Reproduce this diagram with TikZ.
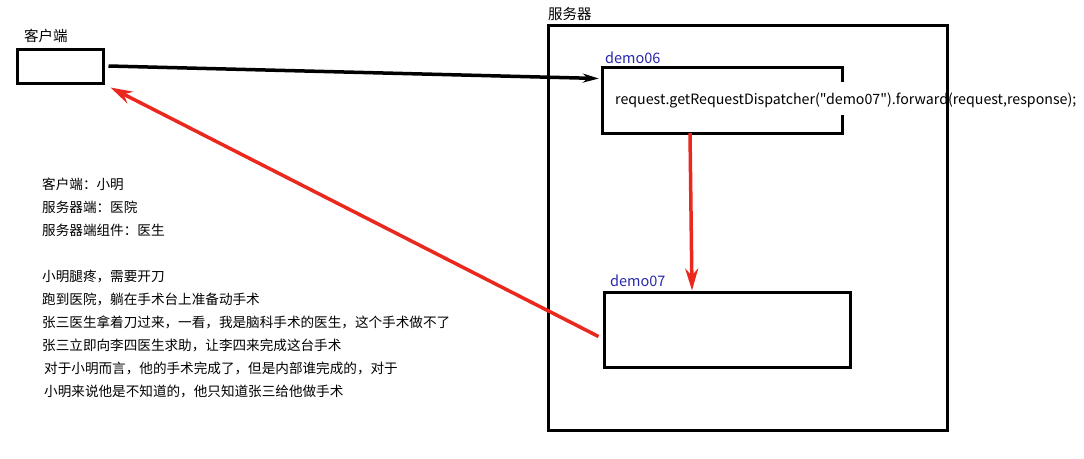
\documentclass[tikz,border=0pt]{standalone}
\usepackage{fontspec}
\setmainfont{Noto Sans CJK SC}
\newfontfamily\codefont{Noto Sans CJK SC}
\usepackage{tikz}
\usetikzlibrary{arrows.meta}
\definecolor{labelblue}{RGB}{40,40,170}
\definecolor{arrowred}{RGB}{235,40,30}
\tikzset{
    box/.style={draw,line width=3pt,inner sep=0pt},
    tag/.style={anchor=south west,inner sep=0pt,font=\fontsize{14.5}{16}\selectfont},
    blacklink/.style={line width=3.5pt,-{Stealth[length=16pt,width=9pt]}},
    redlink/.style={draw=arrowred,line width=3.5pt,-{Stealth[length=22pt,width=13pt,fill=arrowred]}}
}

\begin{document}
\begin{tikzpicture}[x=1pt,y=-1pt]
\useasboundingbox (0,0) rectangle (1084,458);

\node[box,minimum width=86pt,minimum height=34pt] (client) at (60,66) {};
\node[box,minimum width=399pt,minimum height=405pt] (server) at (747.5,227.5) {};
\node[minimum width=239pt,minimum height=65pt,inner sep=0pt] (d6) at (722.5,100.5) {};
\node[box,minimum width=246pt,minimum height=75pt] (d7) at (727,329.5) {};

% demo06 is left open on the right where the call runs out of it
\draw[line width=3pt] ([yshift=-14pt]d6.north east) |- (d6.north west) |- (d6.south east) -- ++(0,-18);

\node[tag] (clientlabel) at (24,43) {客户端};
\node[tag] (serverlabel) at (548,21) {服务器};
\node[tag,text=labelblue] (d6label) at (605,64) {demo06};
\node[tag,text=labelblue] (d7label) at (610,287) {demo07};

\node[anchor=west,inner sep=0pt,font=\codefont\fontsize{14.2}{15}\selectfont] (call) at (615,100)
    {request.getRequestDispatcher("demo07").forward(request,response);};

\node[anchor=north west,inner sep=0pt,align=left,font=\fontsize{13.6}{23}\selectfont] (story) at (42,178)
    {客户端：小明\\
     服务器端：医院\\
     服务器端组件：医生\\[23pt]
     小明腿疼，需要开刀\\
     跑到医院，躺在手术台上准备动手术\\
     张三医生拿着刀过来，一看，我是脑科手术的医生，这个手术做不了\\
     张三立即向李四医生求助，让李四来完成这台手术\\
     \hspace{2pt}对于小明而言，他的手术完成了，但是内部谁完成的，对于\\
     \hspace{2pt}小明来说他是不知道的，他只知道张三给他做手术};

\coordinate (from client) at ([xshift=4pt]client.east);
\coordinate (to d6) at ([xshift=-4pt,yshift=22pt]d6.west);
\draw[blacklink] (from client) -- (to d6);
\draw[redlink] ([xshift=-32.5pt]d6.south) -- ([xshift=-35pt]d7.north);
\draw[redlink] ([xshift=-4pt,yshift=-7pt]d7.west) -- ([xshift=6pt,yshift=-3pt]client.south east);

\end{tikzpicture}
\end{document}
